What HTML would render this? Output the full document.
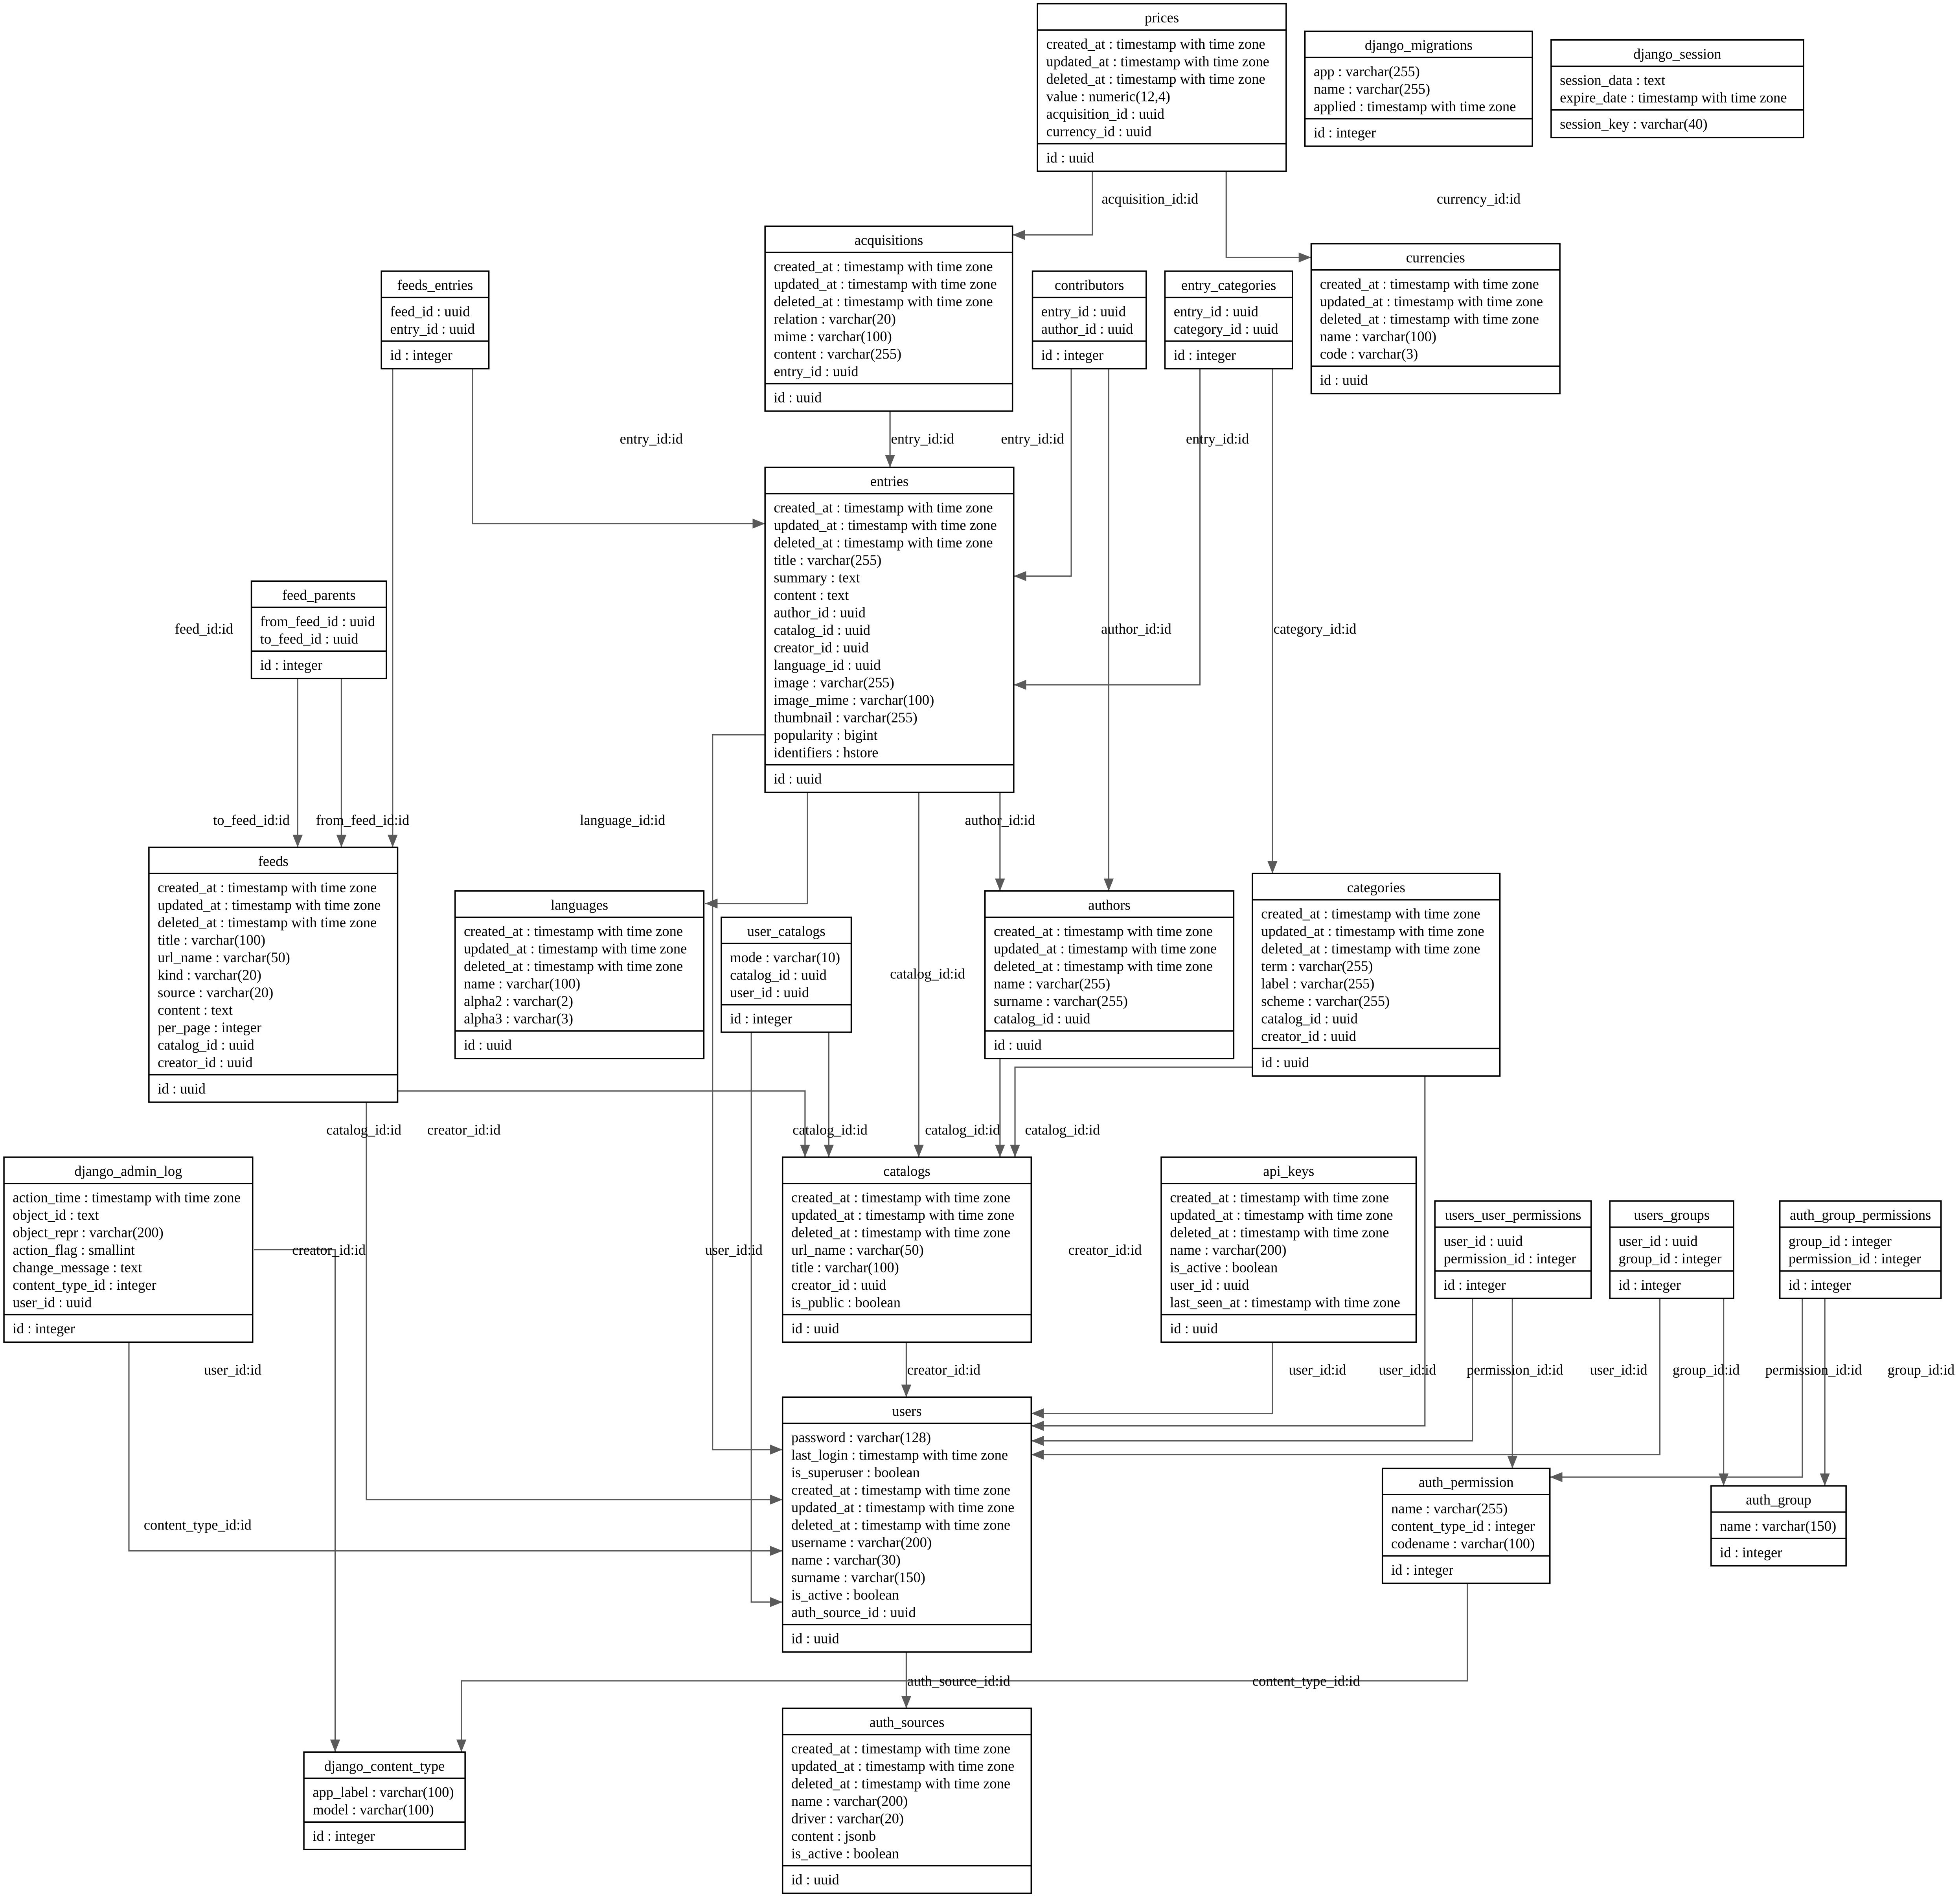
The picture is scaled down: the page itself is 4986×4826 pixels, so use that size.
<!DOCTYPE html>
<html><head><meta charset="utf-8"><style>
html,body{margin:0;padding:0;background:#fff;}
svg{display:block;}
text{font-family:"Liberation Serif",serif;font-size:11.5px;fill:#000;}
.t rect{fill:#fff;stroke:#000;stroke-width:1.1;}
.t line{stroke:#000;stroke-width:1.1;}
.e{fill:none;stroke:#5a5a5a;stroke-width:1;}
</style></head><body>
<svg width="4986" height="4826" viewBox="0 0 1568 1518" xmlns="http://www.w3.org/2000/svg">
<defs><marker id="a" markerUnits="userSpaceOnUse" markerWidth="10" markerHeight="8" refX="10" refY="4" orient="auto"><path d="M0,0 L10,4 L0,8 z" fill="#5a5a5a"/></marker></defs>
<rect width="1568" height="1518" fill="#fff"/>

<!-- edges -->
<g class="e" marker-end="url(#a)">
<polyline points="874,137 874,188 810,188"/>
<polyline points="981,137 981,206 1049,206"/>
<polyline points="712,329 712,374"/>
<polyline points="378,293 378,419 612,419"/>
<polyline points="857,293 857,461 811,461"/>
<polyline points="960,293 960,548 811,548"/>
<polyline points="314,293 314,678"/>
<polyline points="238,543 238,678"/>
<polyline points="273,543 273,678"/>
<polyline points="887,293 887,713"/>
<polyline points="1018,293 1018,699"/>
<polyline points="646,634 646,723 564,723"/>
<polyline points="800,634 800,713"/>
<polyline points="735,634 735,926"/>
<polyline points="612,588 570,588 570,1160 626,1160"/>
<polyline points="663,826 663,926"/>
<polyline points="318,873 644,873 644,926"/>
<polyline points="293,882 293,1200 626,1200"/>
<polyline points="800,847 800,926"/>
<polyline points="1002,854 812,854 812,926"/>
<polyline points="725,1074 725,1118"/>
<polyline points="1018,1074 1018,1131 825,1131"/>
<polyline points="1140,861 1140,1141 825,1141"/>
<polyline points="1178,1039 1178,1153 825,1153"/>
<polyline points="1328,1039 1328,1164 825,1164"/>
<polyline points="1210,1039 1210,1175"/>
<polyline points="1379,1039 1379,1189"/>
<polyline points="1442,1039 1442,1182 1240,1182"/>
<polyline points="1460,1039 1460,1189"/>
<polyline points="103,1074 103,1241 626,1241"/>
<polyline points="203,1000 268,1000 268,1402"/>
<polyline points="601,826 601,1282 626,1282"/>
<polyline points="725,1322 725,1367"/>
<polyline points="1174,1267 1174,1345 369,1345 369,1402"/>
</g>

<!-- edge labels -->
<g text-anchor="middle">
<text x="920" y="163">acquisition_id:id</text>
<text x="1183" y="163">currency_id:id</text>
<text x="521" y="355">entry_id:id</text>
<text x="738" y="355">entry_id:id</text>
<text x="826" y="355">entry_id:id</text>
<text x="974" y="355">entry_id:id</text>
<text x="163" y="507">feed_id:id</text>
<text x="909" y="507">author_id:id</text>
<text x="1052" y="507">category_id:id</text>
<text x="201" y="660">to_feed_id:id</text>
<text x="290" y="660">from_feed_id:id</text>
<text x="498" y="660">language_id:id</text>
<text x="800" y="660">author_id:id</text>
<text x="742" y="783">catalog_id:id</text>
<text x="291" y="908">catalog_id:id</text>
<text x="371" y="908">creator_id:id</text>
<text x="664" y="908">catalog_id:id</text>
<text x="770" y="908">catalog_id:id</text>
<text x="850" y="908">catalog_id:id</text>
<text x="263" y="1004">creator_id:id</text>
<text x="587" y="1004">user_id:id</text>
<text x="884" y="1004">creator_id:id</text>
<text x="186" y="1100">user_id:id</text>
<text x="755" y="1100">creator_id:id</text>
<text x="1054" y="1100">user_id:id</text>
<text x="1126" y="1100">user_id:id</text>
<text x="1212" y="1100">permission_id:id</text>
<text x="1295" y="1100">user_id:id</text>
<text x="1365" y="1100">group_id:id</text>
<text x="1451" y="1100">permission_id:id</text>
<text x="1537" y="1100">group_id:id</text>
<text x="158" y="1224">content_type_id:id</text>
<text x="767" y="1349">auth_source_id:id</text>
<text x="1045" y="1349">content_type_id:id</text>
</g>

<!-- tables -->
<g class="t" transform="translate(830,3)"><rect width="199" height="134"/><line x1="0" y1="21" x2="199" y2="21"/><line x1="0" y1="112" x2="199" y2="112"/>
<text x="99.5" y="15" text-anchor="middle">prices</text>
<text x="7" y="36">created_at : timestamp with time zone</text><text x="7" y="50">updated_at : timestamp with time zone</text><text x="7" y="64">deleted_at : timestamp with time zone</text><text x="7" y="78">value : numeric(12,4)</text><text x="7" y="92">acquisition_id : uuid</text><text x="7" y="106">currency_id : uuid</text>
<text x="7" y="127">id : uuid</text></g>

<g class="t" transform="translate(1044,25)"><rect width="182" height="92"/><line x1="0" y1="21" x2="182" y2="21"/><line x1="0" y1="70" x2="182" y2="70"/>
<text x="91" y="15" text-anchor="middle">django_migrations</text>
<text x="7" y="36">app : varchar(255)</text><text x="7" y="50">name : varchar(255)</text><text x="7" y="64">applied : timestamp with time zone</text>
<text x="7" y="85">id : integer</text></g>

<g class="t" transform="translate(1241,32)"><rect width="202" height="78"/><line x1="0" y1="21" x2="202" y2="21"/><line x1="0" y1="56" x2="202" y2="56"/>
<text x="101" y="15" text-anchor="middle">django_session</text>
<text x="7" y="36">session_data : text</text><text x="7" y="50">expire_date : timestamp with time zone</text>
<text x="7" y="71">session_key : varchar(40)</text></g>

<g class="t" transform="translate(612,181)"><rect width="198" height="148"/><line x1="0" y1="21" x2="198" y2="21"/><line x1="0" y1="126" x2="198" y2="126"/>
<text x="99" y="15" text-anchor="middle">acquisitions</text>
<text x="7" y="36">created_at : timestamp with time zone</text><text x="7" y="50">updated_at : timestamp with time zone</text><text x="7" y="64">deleted_at : timestamp with time zone</text><text x="7" y="78">relation : varchar(20)</text><text x="7" y="92">mime : varchar(100)</text><text x="7" y="106">content : varchar(255)</text><text x="7" y="120">entry_id : uuid</text>
<text x="7" y="141">id : uuid</text></g>

<g class="t" transform="translate(305,217)"><rect width="86" height="78"/><line x1="0" y1="21" x2="86" y2="21"/><line x1="0" y1="56" x2="86" y2="56"/>
<text x="43" y="15" text-anchor="middle">feeds_entries</text>
<text x="7" y="36">feed_id : uuid</text><text x="7" y="50">entry_id : uuid</text>
<text x="7" y="71">id : integer</text></g>

<g class="t" transform="translate(826,217)"><rect width="91" height="78"/><line x1="0" y1="21" x2="91" y2="21"/><line x1="0" y1="56" x2="91" y2="56"/>
<text x="45.5" y="15" text-anchor="middle">contributors</text>
<text x="7" y="36">entry_id : uuid</text><text x="7" y="50">author_id : uuid</text>
<text x="7" y="71">id : integer</text></g>

<g class="t" transform="translate(932,217)"><rect width="102" height="78"/><line x1="0" y1="21" x2="102" y2="21"/><line x1="0" y1="56" x2="102" y2="56"/>
<text x="51" y="15" text-anchor="middle">entry_categories</text>
<text x="7" y="36">entry_id : uuid</text><text x="7" y="50">category_id : uuid</text>
<text x="7" y="71">id : integer</text></g>

<g class="t" transform="translate(1049,195)"><rect width="199" height="120"/><line x1="0" y1="21" x2="199" y2="21"/><line x1="0" y1="98" x2="199" y2="98"/>
<text x="99.5" y="15" text-anchor="middle">currencies</text>
<text x="7" y="36">created_at : timestamp with time zone</text><text x="7" y="50">updated_at : timestamp with time zone</text><text x="7" y="64">deleted_at : timestamp with time zone</text><text x="7" y="78">name : varchar(100)</text><text x="7" y="92">code : varchar(3)</text>
<text x="7" y="113">id : uuid</text></g>

<g class="t" transform="translate(612,374)"><rect width="199" height="260"/><line x1="0" y1="21" x2="199" y2="21"/><line x1="0" y1="238" x2="199" y2="238"/>
<text x="99.5" y="15" text-anchor="middle">entries</text>
<text x="7" y="36">created_at : timestamp with time zone</text><text x="7" y="50">updated_at : timestamp with time zone</text><text x="7" y="64">deleted_at : timestamp with time zone</text><text x="7" y="78">title : varchar(255)</text><text x="7" y="92">summary : text</text><text x="7" y="106">content : text</text><text x="7" y="120">author_id : uuid</text><text x="7" y="134">catalog_id : uuid</text><text x="7" y="148">creator_id : uuid</text><text x="7" y="162">language_id : uuid</text><text x="7" y="176">image : varchar(255)</text><text x="7" y="190">image_mime : varchar(100)</text><text x="7" y="204">thumbnail : varchar(255)</text><text x="7" y="218">popularity : bigint</text><text x="7" y="232">identifiers : hstore</text>
<text x="7" y="253">id : uuid</text></g>

<g class="t" transform="translate(201,465)"><rect width="108" height="78"/><line x1="0" y1="21" x2="108" y2="21"/><line x1="0" y1="56" x2="108" y2="56"/>
<text x="54" y="15" text-anchor="middle">feed_parents</text>
<text x="7" y="36">from_feed_id : uuid</text><text x="7" y="50">to_feed_id : uuid</text>
<text x="7" y="71">id : integer</text></g>

<g class="t" transform="translate(119,678)"><rect width="199" height="204"/><line x1="0" y1="21" x2="199" y2="21"/><line x1="0" y1="182" x2="199" y2="182"/>
<text x="99.5" y="15" text-anchor="middle">feeds</text>
<text x="7" y="36">created_at : timestamp with time zone</text><text x="7" y="50">updated_at : timestamp with time zone</text><text x="7" y="64">deleted_at : timestamp with time zone</text><text x="7" y="78">title : varchar(100)</text><text x="7" y="92">url_name : varchar(50)</text><text x="7" y="106">kind : varchar(20)</text><text x="7" y="120">source : varchar(20)</text><text x="7" y="134">content : text</text><text x="7" y="148">per_page : integer</text><text x="7" y="162">catalog_id : uuid</text><text x="7" y="176">creator_id : uuid</text>
<text x="7" y="197">id : uuid</text></g>

<g class="t" transform="translate(364,713)"><rect width="199" height="134"/><line x1="0" y1="21" x2="199" y2="21"/><line x1="0" y1="112" x2="199" y2="112"/>
<text x="99.5" y="15" text-anchor="middle">languages</text>
<text x="7" y="36">created_at : timestamp with time zone</text><text x="7" y="50">updated_at : timestamp with time zone</text><text x="7" y="64">deleted_at : timestamp with time zone</text><text x="7" y="78">name : varchar(100)</text><text x="7" y="92">alpha2 : varchar(2)</text><text x="7" y="106">alpha3 : varchar(3)</text>
<text x="7" y="127">id : uuid</text></g>

<g class="t" transform="translate(577,734)"><rect width="104" height="92"/><line x1="0" y1="21" x2="104" y2="21"/><line x1="0" y1="70" x2="104" y2="70"/>
<text x="52" y="15" text-anchor="middle">user_catalogs</text>
<text x="7" y="36">mode : varchar(10)</text><text x="7" y="50">catalog_id : uuid</text><text x="7" y="64">user_id : uuid</text>
<text x="7" y="85">id : integer</text></g>

<g class="t" transform="translate(788,713)"><rect width="199" height="134"/><line x1="0" y1="21" x2="199" y2="21"/><line x1="0" y1="112" x2="199" y2="112"/>
<text x="99.5" y="15" text-anchor="middle">authors</text>
<text x="7" y="36">created_at : timestamp with time zone</text><text x="7" y="50">updated_at : timestamp with time zone</text><text x="7" y="64">deleted_at : timestamp with time zone</text><text x="7" y="78">name : varchar(255)</text><text x="7" y="92">surname : varchar(255)</text><text x="7" y="106">catalog_id : uuid</text>
<text x="7" y="127">id : uuid</text></g>

<g class="t" transform="translate(1002,699)"><rect width="198" height="162"/><line x1="0" y1="21" x2="198" y2="21"/><line x1="0" y1="140" x2="198" y2="140"/>
<text x="99" y="15" text-anchor="middle">categories</text>
<text x="7" y="36">created_at : timestamp with time zone</text><text x="7" y="50">updated_at : timestamp with time zone</text><text x="7" y="64">deleted_at : timestamp with time zone</text><text x="7" y="78">term : varchar(255)</text><text x="7" y="92">label : varchar(255)</text><text x="7" y="106">scheme : varchar(255)</text><text x="7" y="120">catalog_id : uuid</text><text x="7" y="134">creator_id : uuid</text>
<text x="7" y="155">id : uuid</text></g>

<g class="t" transform="translate(3,926)"><rect width="199" height="148"/><line x1="0" y1="21" x2="199" y2="21"/><line x1="0" y1="126" x2="199" y2="126"/>
<text x="99.5" y="15" text-anchor="middle">django_admin_log</text>
<text x="7" y="36">action_time : timestamp with time zone</text><text x="7" y="50">object_id : text</text><text x="7" y="64">object_repr : varchar(200)</text><text x="7" y="78">action_flag : smallint</text><text x="7" y="92">change_message : text</text><text x="7" y="106">content_type_id : integer</text><text x="7" y="120">user_id : uuid</text>
<text x="7" y="141">id : integer</text></g>

<g class="t" transform="translate(626,926)"><rect width="199" height="148"/><line x1="0" y1="21" x2="199" y2="21"/><line x1="0" y1="126" x2="199" y2="126"/>
<text x="99.5" y="15" text-anchor="middle">catalogs</text>
<text x="7" y="36">created_at : timestamp with time zone</text><text x="7" y="50">updated_at : timestamp with time zone</text><text x="7" y="64">deleted_at : timestamp with time zone</text><text x="7" y="78">url_name : varchar(50)</text><text x="7" y="92">title : varchar(100)</text><text x="7" y="106">creator_id : uuid</text><text x="7" y="120">is_public : boolean</text>
<text x="7" y="141">id : uuid</text></g>

<g class="t" transform="translate(929,926)"><rect width="204" height="148"/><line x1="0" y1="21" x2="204" y2="21"/><line x1="0" y1="126" x2="204" y2="126"/>
<text x="102" y="15" text-anchor="middle">api_keys</text>
<text x="7" y="36">created_at : timestamp with time zone</text><text x="7" y="50">updated_at : timestamp with time zone</text><text x="7" y="64">deleted_at : timestamp with time zone</text><text x="7" y="78">name : varchar(200)</text><text x="7" y="92">is_active : boolean</text><text x="7" y="106">user_id : uuid</text><text x="7" y="120">last_seen_at : timestamp with time zone</text>
<text x="7" y="141">id : uuid</text></g>

<g class="t" transform="translate(1148,961)"><rect width="125" height="78"/><line x1="0" y1="21" x2="125" y2="21"/><line x1="0" y1="56" x2="125" y2="56"/>
<text x="62.5" y="15" text-anchor="middle">users_user_permissions</text>
<text x="7" y="36">user_id : uuid</text><text x="7" y="50">permission_id : integer</text>
<text x="7" y="71">id : integer</text></g>

<g class="t" transform="translate(1288,961)"><rect width="99" height="78"/><line x1="0" y1="21" x2="99" y2="21"/><line x1="0" y1="56" x2="99" y2="56"/>
<text x="49.5" y="15" text-anchor="middle">users_groups</text>
<text x="7" y="36">user_id : uuid</text><text x="7" y="50">group_id : integer</text>
<text x="7" y="71">id : integer</text></g>

<g class="t" transform="translate(1424,961)"><rect width="129" height="78"/><line x1="0" y1="21" x2="129" y2="21"/><line x1="0" y1="56" x2="129" y2="56"/>
<text x="64.5" y="15" text-anchor="middle">auth_group_permissions</text>
<text x="7" y="36">group_id : integer</text><text x="7" y="50">permission_id : integer</text>
<text x="7" y="71">id : integer</text></g>

<g class="t" transform="translate(626,1118)"><rect width="199" height="204"/><line x1="0" y1="21" x2="199" y2="21"/><line x1="0" y1="182" x2="199" y2="182"/>
<text x="99.5" y="15" text-anchor="middle">users</text>
<text x="7" y="36">password : varchar(128)</text><text x="7" y="50">last_login : timestamp with time zone</text><text x="7" y="64">is_superuser : boolean</text><text x="7" y="78">created_at : timestamp with time zone</text><text x="7" y="92">updated_at : timestamp with time zone</text><text x="7" y="106">deleted_at : timestamp with time zone</text><text x="7" y="120">username : varchar(200)</text><text x="7" y="134">name : varchar(30)</text><text x="7" y="148">surname : varchar(150)</text><text x="7" y="162">is_active : boolean</text><text x="7" y="176">auth_source_id : uuid</text>
<text x="7" y="197">id : uuid</text></g>

<g class="t" transform="translate(1106,1175)"><rect width="134" height="92"/><line x1="0" y1="21" x2="134" y2="21"/><line x1="0" y1="70" x2="134" y2="70"/>
<text x="67" y="15" text-anchor="middle">auth_permission</text>
<text x="7" y="36">name : varchar(255)</text><text x="7" y="50">content_type_id : integer</text><text x="7" y="64">codename : varchar(100)</text>
<text x="7" y="85">id : integer</text></g>

<g class="t" transform="translate(1369,1189)"><rect width="108" height="64"/><line x1="0" y1="21" x2="108" y2="21"/><line x1="0" y1="42" x2="108" y2="42"/>
<text x="54" y="15" text-anchor="middle">auth_group</text>
<text x="7" y="36">name : varchar(150)</text>
<text x="7" y="57">id : integer</text></g>

<g class="t" transform="translate(626,1367)"><rect width="199" height="148"/><line x1="0" y1="21" x2="199" y2="21"/><line x1="0" y1="126" x2="199" y2="126"/>
<text x="99.5" y="15" text-anchor="middle">auth_sources</text>
<text x="7" y="36">created_at : timestamp with time zone</text><text x="7" y="50">updated_at : timestamp with time zone</text><text x="7" y="64">deleted_at : timestamp with time zone</text><text x="7" y="78">name : varchar(200)</text><text x="7" y="92">driver : varchar(20)</text><text x="7" y="106">content : jsonb</text><text x="7" y="120">is_active : boolean</text>
<text x="7" y="141">id : uuid</text></g>

<g class="t" transform="translate(243,1402)"><rect width="129" height="78"/><line x1="0" y1="21" x2="129" y2="21"/><line x1="0" y1="56" x2="129" y2="56"/>
<text x="64.5" y="15" text-anchor="middle">django_content_type</text>
<text x="7" y="36">app_label : varchar(100)</text><text x="7" y="50">model : varchar(100)</text>
<text x="7" y="71">id : integer</text></g>
</svg>
</body></html>
